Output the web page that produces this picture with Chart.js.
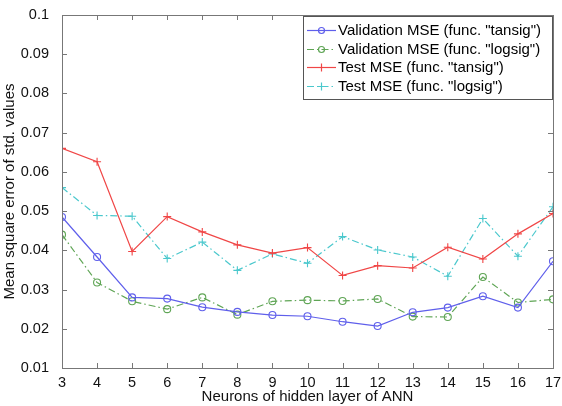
<!DOCTYPE html>
<html>
<head>
<meta charset="utf-8">
<script src="https://cdn.jsdelivr.net/npm/chart.js@4/dist/chart.umd.min.js"></script>
<style>
html,body{margin:0;padding:0;background:#fff;}
#wrap{width:562px;height:406px;position:relative;}
</style>
</head>
<body>
<div id="wrap"><canvas id="c" width="562" height="406"></canvas></div>
<script>
const neurons = [3,4,5,6,7,8,9,10,11,12,13,14,15,16,17];
const valTansig = [0.0485,0.0383,0.0280,0.0277,0.0255,0.0243,0.0235,0.0232,0.0218,0.0207,0.0242,0.0254,0.0283,0.0254,0.0372];
const valLogsig = [0.0440,0.0318,0.0270,0.0250,0.0280,0.0236,0.0270,0.0273,0.0271,0.0276,0.0231,0.0230,0.0332,0.0267,0.0275];
const testTansig = [0.0660,0.0626,0.0397,0.0486,0.0447,0.0414,0.0393,0.0407,0.0336,0.0361,0.0355,0.0408,0.0378,0.0442,0.0494];
const testLogsig = [0.0560,0.0489,0.0487,0.0379,0.0421,0.0349,0.0391,0.0367,0.0435,0.0401,0.0383,0.0334,0.0481,0.0385,0.0511];
const seriesNames = ['Validation MSE (func. "tansig")','Validation MSE (func. "logsig")','Test MSE (func. "tansig")','Test MSE (func. "logsig")'];
const xTitle = 'Neurons of hidden layer of ANN';
const yTitle = 'Mean square error of std. values';

const FONT = 'Liberation Sans, Arial, sans-serif';
const FS = 15;
const TFS = 14.5;
const dashDot = [7,3,1.5,3];
function pts(arr){ return neurons.map((n,i)=>({x:n,y:arr[i]})); }

const styles = [
  {c:'rgb(95,95,235)', dash:[], ps:'circle', r:3.5},
  {c:'rgb(95,165,85)', dash:dashDot, ps:'circle', r:3.5},
  {c:'rgb(240,70,70)', dash:[], ps:'cross', r:4},
  {c:'rgb(75,200,205)', dash:dashDot, ps:'cross', r:4}
];
const allData = [valTansig, valLogsig, testTansig, testLogsig];

const datasets = allData.map((d,i)=>({
  label: seriesNames[i],
  data: pts(d),
  borderColor: styles[i].c,
  backgroundColor: 'rgba(0,0,0,0)',
  pointBorderColor: styles[i].c,
  pointBackgroundColor: 'rgba(0,0,0,0)',
  borderWidth: 1.2,
  pointBorderWidth: 1.1,
  borderDash: styles[i].dash,
  pointStyle: styles[i].ps,
  pointRadius: styles[i].r,
  tension: 0
}));

const AXC = '#777';
const boxPlugin = {
  id:'boxPlugin',
  afterDraw(chart){
    const ctx = chart.ctx, a = chart.chartArea;
    const xs = chart.scales.x, ys = chart.scales.y;
    ctx.save();
    ctx.strokeStyle = AXC; ctx.lineWidth = 1; ctx.setLineDash([]);
    ctx.strokeRect(Math.round(a.left)+0.5, Math.round(a.top)+0.5, Math.round(a.right-a.left), Math.round(a.bottom-a.top));
    const tl = 5;
    ctx.beginPath();
    xs.ticks.forEach(t=>{
      const px = Math.round(xs.getPixelForValue(t.value))+0.5;
      ctx.moveTo(px,a.bottom); ctx.lineTo(px,a.bottom-tl);
      ctx.moveTo(px,a.top); ctx.lineTo(px,a.top+tl);
    });
    ys.ticks.forEach(t=>{
      const py = Math.round(ys.getPixelForValue(t.value))+0.5;
      ctx.moveTo(a.left,py); ctx.lineTo(a.left+tl,py);
      ctx.moveTo(a.right,py); ctx.lineTo(a.right-tl,py);
    });
    ctx.stroke();

    // legend
    const lx = 303.5, ly = 16.5, lw = 249, lh = 83;
    ctx.fillStyle = '#fff';
    ctx.fillRect(lx, ly, lw, lh);
    ctx.strokeStyle = '#555';
    ctx.strokeRect(lx, ly, lw, lh);
    ctx.font = FS + 'px ' + FONT;
    ctx.textBaseline = 'middle';
    const rows = [30,49,67,86];
    chart.data.datasets.forEach((ds,i)=>{
      const y = rows[i]+0.5;
      ctx.strokeStyle = ds.borderColor;
      ctx.lineWidth = 1.2;
      ctx.setLineDash(ds.borderDash);
      ctx.beginPath(); ctx.moveTo(307,y); ctx.lineTo(336,y); ctx.stroke();
      ctx.setLineDash([]);
      const mx = 321.5;
      ctx.beginPath();
      if (ds.pointStyle==='circle'){ ctx.arc(mx,y,3,0,Math.PI*2); }
      else { ctx.moveTo(mx-4,y); ctx.lineTo(mx+4,y); ctx.moveTo(mx,y-4); ctx.lineTo(mx,y+4); }
      ctx.stroke();
      ctx.fillStyle = '#000';
      ctx.fillText(ds.label, 338, y+0.5);
    });
    ctx.restore();
  }
};

new Chart(document.getElementById('c'), {
  type:'line',
  data:{datasets},
  options:{
    responsive:false,
    animation:false,
    layout:{padding:{top:15,right:9,left:0,bottom:0}},
    plugins:{legend:{display:false},tooltip:{enabled:false}},
    scales:{
      x:{
        type:'linear', min:3, max:17,
        grid:{display:false},
        border:{display:false},
        ticks:{stepSize:1, color:'#111', font:{family:FONT,size:TFS}, padding:-2, maxRotation:0, autoSkip:false},
        title:{display:true, text:xTitle, color:'#111', font:{family:FONT,size:FS}, padding:{top:0,bottom:0}},
        afterFit(s){ s.height = 38; }
      },
      y:{
        type:'linear', min:0.01, max:0.1,
        grid:{display:false},
        border:{display:false},
        ticks:{stepSize:0.01, color:'#111', font:{family:FONT,size:TFS}, padding:5,
          callback:(v)=>String(Number(v.toFixed(2)))},
        title:{display:true, text:yTitle, color:'#111', font:{family:FONT,size:FS}, padding:{top:1,bottom:0}},
        afterFit(s){ s.width = 62; }
      }
    }
  },
  plugins:[boxPlugin]
});
</script>
</body>
</html>
